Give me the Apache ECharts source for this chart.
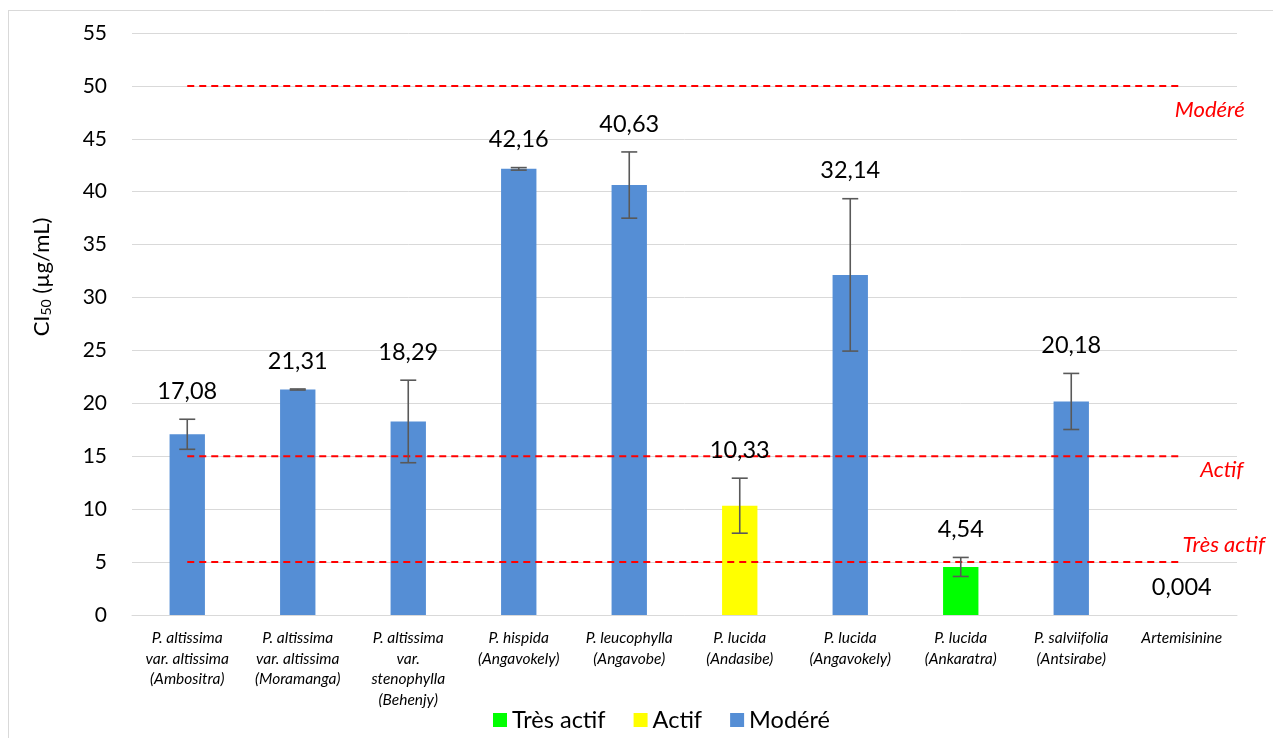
<!DOCTYPE html>
<html>
<head>
<meta charset="utf-8">
<script src="https://cdn.jsdelivr.net/npm/echarts@6/dist/echarts.min.js"></script>
<style>html,body{margin:0;padding:0;background:#fff;}#c{width:1273px;height:738px;}</style>
</head>
<body>
<div id="c"></div>
<script>
const categories = [
  'P. altissima\nvar. altissima\n(Ambositra)',
  'P. altissima\nvar. altissima\n(Moramanga)',
  'P. altissima\nvar.\nstenophylla\n(Behenjy)',
  'P. hispida\n(Angavokely)',
  'P. leucophylla\n(Angavobe)',
  'P. lucida\n(Andasibe)',
  'P. lucida\n(Angavokely)',
  'P. lucida\n(Ankaratra)',
  'P. salviifolia\n(Antsirabe)',
  'Artemisinine'
];
const values = [17.08, 21.31, 18.29, 42.16, 40.63, 10.33, 32.14, 4.54, 20.18, 0.004];
const errors = [1.42, 0.05, 3.9, 0.12, 3.13, 2.6, 7.2, 0.9, 2.65, 0];
const valueLabels = ['17,08', '21,31', '18,29', '42,16', '40,63', '10,33', '32,14', '4,54', '20,18', '0,004'];
const activity = ['Modéré', 'Modéré', 'Modéré', 'Modéré', 'Modéré', 'Actif', 'Modéré', 'Très actif', 'Modéré', 'Modéré'];
const legendNames = ['Très actif', 'Actif', 'Modéré'];
const thresholdValues = [50, 15, 5];
const thresholdNames = ['Modéré', 'Actif', 'Très actif'];

const colors = { 'Très actif': '#00ff00', 'Actif': '#ffff00', 'Modéré': '#558ed5' };
const FONT = 'Lato, "Open Sans", sans-serif';
const labelOffsets = { 'Modéré': [28, 24], 'Actif': [40, 14], 'Très actif': [42, -17] };

const chart = echarts.init(document.getElementById('c'));

const barSeries = legendNames.map(name => ({
  name: name,
  type: 'bar',
  stack: 'all',
  barWidth: '32%',
  itemStyle: { color: colors[name] },
  data: values.map((v, i) => activity[i] === name ? v : '-'),
  z: 2
}));

const lineSeries = thresholdValues.map((t, k) => ({
  name: 'seuil_' + thresholdNames[k],
  type: 'line',
  data: categories.map(() => t),
  symbol: 'none',
  silent: true,
  lineStyle: { color: '#ff0000', width: 2, type: [7, 5] },
  z: 4,
  markPoint: {
    symbol: 'circle', symbolSize: 0,
    data: [{ coord: [categories.length - 1, t] }],
    label: {
      show: true, formatter: thresholdNames[k], color: '#ff0000',
      fontStyle: 'italic', fontSize: 22, fontFamily: FONT,
      offset: labelOffsets[thresholdNames[k]]
    }
  }
}));

const errSeries = {
  type: 'custom',
  silent: true,
  z: 5,
  data: values.map((v, i) => [i, v, errors[i]]),
  renderItem: function (params, api) {
    const i = api.value(0), v = api.value(1), e = api.value(2);
    const hi = api.coord([i, v + e]);
    const lo = api.coord([i, v - e]);
    const base = api.coord([i, v]);
    const cap = 8;
    const children = [];
    if (e > 0) {
      const st = { stroke: '#595959', lineWidth: 1.6 };
      children.push({ type: 'line', shape: { x1: hi[0], y1: hi[1], x2: lo[0], y2: lo[1] }, style: st });
      children.push({ type: 'line', shape: { x1: hi[0] - cap, y1: hi[1], x2: hi[0] + cap, y2: hi[1] }, style: st });
      children.push({ type: 'line', shape: { x1: lo[0] - cap, y1: lo[1], x2: lo[0] + cap, y2: lo[1] }, style: st });
    }
    const topY = Math.min(hi[1], base[1]);
    children.push({
      type: 'text',
      style: {
        x: base[0], y: topY - 28, text: valueLabels[i],
        textAlign: 'center', textVerticalAlign: 'middle',
        fill: '#000', fontSize: 23.5, fontFamily: FONT
      }
    });
    return { type: 'group', children: children };
  }
};

chart.setOption({
  animation: false,
  textStyle: { fontFamily: FONT },
  grid: { left: 132, right: 36, top: 33, bottom: 123, containLabel: false },
  legend: {
    data: legendNames,
    left: 488, top: 703,
    itemWidth: 14, itemHeight: 14, itemGap: 28,
    icon: 'rect',
    textStyle: { fontSize: 23.5, color: '#000', fontFamily: FONT }
  },
  xAxis: {
    type: 'category',
    data: categories,
    axisTick: { show: false },
    axisLine: { lineStyle: { color: '#d9d9d9' } },
    axisLabel: {
      interval: 0, fontStyle: 'italic', fontSize: 15.5, lineHeight: 20.5,
      color: '#000', margin: 13, fontFamily: FONT
    }
  },
  yAxis: {
    type: 'value', min: 0, max: 55, interval: 5,
    axisLine: { show: false },
    axisTick: { show: false },
    splitLine: { lineStyle: { color: '#d9d9d9', width: 1 } },
    axisLabel: { fontSize: 21, color: '#000', margin: 25, fontFamily: FONT }
  },
  graphic: [
    { type: 'line', shape: { x1: 8.5, y1: 10, x2: 8.5, y2: 738 }, style: { stroke: '#d9d9d9', lineWidth: 1 } },
    { type: 'line', shape: { x1: 8, y1: 10.5, x2: 1273, y2: 10.5 }, style: { stroke: '#d9d9d9', lineWidth: 1 } },
    {
      type: 'text', x: 42, y: 277, rotation: Math.PI / 2,
      style: {
        text: '{a|CI}{s|50}{a| (µg/mL)}',
        textAlign: 'center', textVerticalAlign: 'middle',
        rich: {
          a: { fontSize: 22, fill: '#000', fontFamily: FONT },
          s: { fontSize: 14, fill: '#000', fontFamily: FONT, padding: [9, 0, 0, 0] }
        }
      }
    }
  ],
  series: [...barSeries, ...lineSeries, errSeries]
});
</script>
</body>
</html>
